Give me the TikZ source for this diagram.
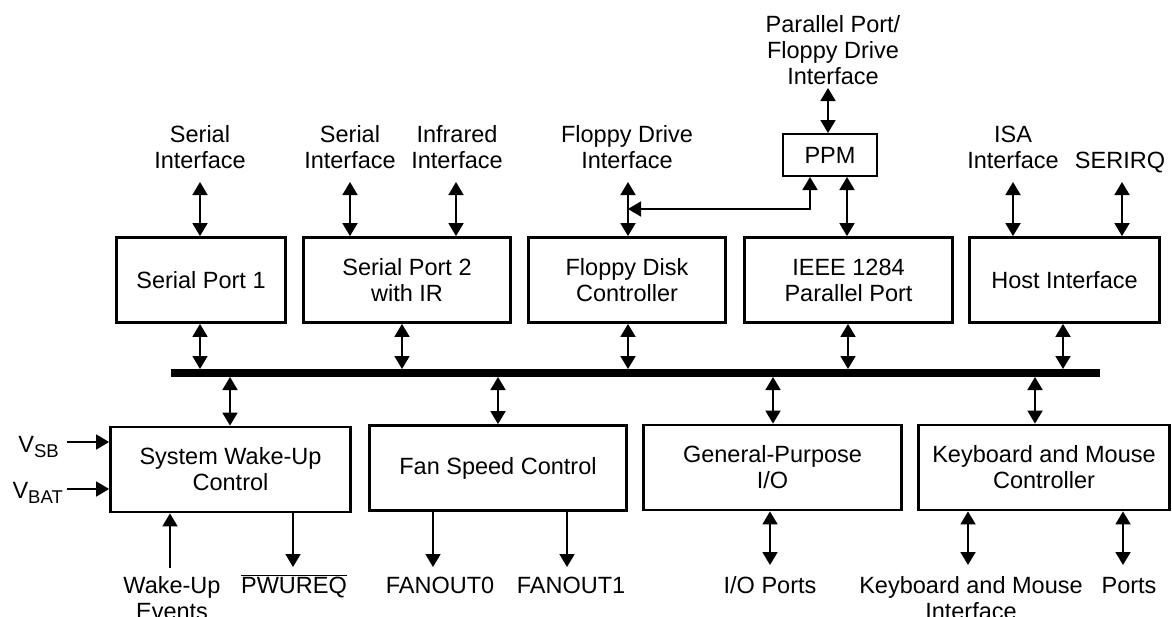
\documentclass[tikz,border=0pt]{standalone}
\usepackage{fontspec}
\setmainfont{Liberation Sans}
\usetikzlibrary{arrows.meta}
\begin{document}
\begin{tikzpicture}[x=1pt,y=-1pt,
  txt/.style={font=\fontsize{23.5}{26}\selectfont, align=center},
  blk/.style={txt, draw, line width=2.8pt, rectangle, minimum height=85pt, inner sep=0pt},
  lbl/.style={txt, inner sep=0pt, anchor=north},
  bl/.style={txt, inner sep=0pt, anchor=base},
  dbl/.style={line width=1.8pt, {Triangle[width=15pt,length=13pt]}-{Triangle[width=15pt,length=13pt]}},
  one/.style={line width=1.8pt, -{Triangle[width=15pt,length=13pt]}},
]
\useasboundingbox (0,0) rectangle (1172,616);

% blocks
\node[blk, minimum width=169pt] (sp1) at (201,280) {Serial Port 1};
\node[blk, minimum width=207pt] (sp2) at (407,280) {Serial Port 2\\with IR};
\node[blk, minimum width=197pt] (fdc) at (627,280) {Floppy Disk\\Controller};
\node[blk, minimum width=208pt] (ieee) at (848.5,280) {IEEE 1284\\Parallel Port};
\node[blk, minimum width=190pt] (host) at (1064.5,280) {Host Interface};
\node[blk, line width=2pt, minimum width=94pt, minimum height=42pt] (ppm) at (830,155) {PPM};
\node[blk, minimum width=240pt] (swu) at (230.5,469.5) {System Wake-Up\\Control};
\node[blk, minimum width=257pt] (fan) at (498,468) {Fan Speed Control};
\node[blk, minimum width=258pt] (gpio) at (772.5,467.5) {General-Purpose\\I/O};
\node[blk, minimum width=251pt] (kbm) at (1044,467.5) {Keyboard and Mouse\\Controller};

% bus
\node[fill, minimum width=929pt, minimum height=8pt, inner sep=0pt, outer sep=0pt] (bus) at (635.5,373) {};

% top labels
\node[lbl] (l1) at (200,125) {Serial\\Interface};
\node[lbl] (l2) at (350,125) {Serial\\Interface};
\node[lbl] (l3) at (457,125) {Infrared\\Interface};
\node[lbl] (l4) at (627,125) {Floppy Drive\\Interface};
\node[lbl] (l5) at (833,15) {Parallel Port/\\Floppy Drive\\Interface};
\node[lbl] (l6) at (1013,126) {ISA\\Interface};
\node[bl] (l7) at (1120,168) {SERIRQ};

% bottom labels
\node[lbl] (l8) at (172,576) {Wake-Up\\Events};
\node[bl] (l9) at (294,593) {$\overline{\hbox{PWUREQ}}$};
\node[bl] (l10) at (440,593) {FANOUT0};
\node[bl] (l11) at (571,593) {FANOUT1};
\node[bl] (l12) at (770,593) {I/O Ports};
\node[lbl] (l13) at (971,576) {Keyboard and Mouse\\Interface};
\node[bl] (l14) at (1129,593) {Ports};
\node[txt, inner sep=0pt, anchor=base east] (vsb) at (59,452) {V\raisebox{-5pt}{\fontsize{18.5}{19}\selectfont SB}};
\node[txt, inner sep=0pt, anchor=base east] (vbat) at (63,498) {V\raisebox{-5pt}{\fontsize{18.5}{19}\selectfont BAT}};

% top connectors
\coordinate (a1) at (200,182);
\coordinate (a2) at (350,182);
\coordinate (a3) at (456,182);
\coordinate (a4) at (628,182);
\coordinate (a5) at (1013,182);
\coordinate (a6) at (1122,182);
\coordinate (a7) at (828,88);
\draw[dbl] (a1) -- (sp1.north -| a1);
\draw[dbl] (a2) -- (sp2.north -| a2);
\draw[dbl] (a3) -- (sp2.north -| a3);
\draw[dbl] (a4) -- (fdc.north -| a4);
\draw[dbl] (a5) -- (host.north -| a5);
\draw[dbl] (a6) -- (host.north -| a6);
\draw[dbl] (a7) -- (ppm.north -| a7);
\coordinate (pi) at (847,0);
\draw[dbl] (ppm.south -| pi) -- (ieee.north -| pi);
\coordinate (fj) at (628,209);
\coordinate (pj) at (810,209);
\draw[dbl] (fj) -- (pj) -- (ppm.south -| pj);

% bus connectors
\coordinate (b1) at (200,0);
\coordinate (b2) at (402,0);
\coordinate (b3) at (628,0);
\coordinate (b4) at (848,0);
\coordinate (b5) at (1063,0);
\draw[dbl] (sp1.south -| b1) -- (bus.north -| b1);
\draw[dbl] (sp2.south -| b2) -- (bus.north -| b2);
\draw[dbl] (fdc.south -| b3) -- (bus.north -| b3);
\draw[dbl] (ieee.south -| b4) -- (bus.north -| b4);
\draw[dbl] (host.south -| b5) -- (bus.north -| b5);
\coordinate (c1) at (230,0);
\coordinate (c2) at (498,0);
\coordinate (c3) at (773,0);
\coordinate (c4) at (1035,0);
\draw[dbl] (bus.south -| c1) -- (swu.north -| c1);
\draw[dbl] (bus.south -| c2) -- (fan.north -| c2);
\draw[dbl] (bus.south -| c3) -- (gpio.north -| c3);
\draw[dbl] (bus.south -| c4) -- (kbm.north -| c4);

% bottom connectors
\coordinate (v1) at (67,442);
\coordinate (v2) at (67,489);
\draw[one] (v1) -- (swu.west |- v1);
\draw[one] (v2) -- (swu.west |- v2);
\coordinate (we) at (170,568);
\coordinate (pw) at (293,567);
\draw[one] (we) -- (swu.south -| we);
\draw[one] (swu.south -| pw) -- (pw);
\coordinate (f0) at (433,567);
\coordinate (f1) at (567,567);
\draw[one] (fan.south -| f0) -- (f0);
\draw[one] (fan.south -| f1) -- (f1);
\coordinate (io) at (770,565);
\draw[dbl] (gpio.south -| io) -- (io);
\coordinate (km) at (968,565);
\coordinate (kp) at (1123,565);
\draw[dbl] (kbm.south -| km) -- (km);
\draw[dbl] (kbm.south -| kp) -- (kp);
\end{tikzpicture}
\end{document}
